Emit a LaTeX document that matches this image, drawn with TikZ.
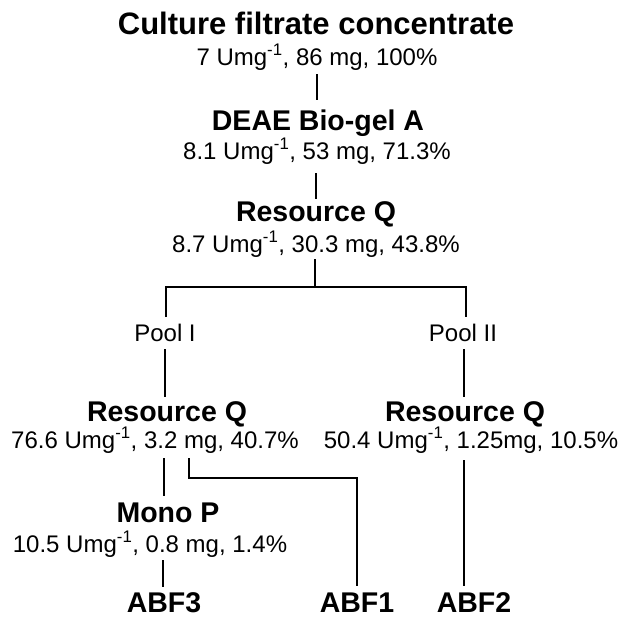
\documentclass[tikz,border=0pt]{standalone}
\usepackage{fontspec}
\setmainfont{Liberation Sans}
\usetikzlibrary{calc}
\begin{document}
\begin{tikzpicture}[x=1pt,y=-1pt,
  hd/.style={anchor=base,inner sep=0pt,text depth=0pt,font=\fontsize{28.5}{30}\selectfont\bfseries},
  ttl/.style={anchor=base,inner sep=0pt,text depth=0pt,font=\fontsize{31}{32}\selectfont\bfseries},
  info/.style={anchor=base,inner sep=0pt,text height=17pt,font=\fontsize{24}{26}\selectfont},
  conn/.style={line width=1.3pt}]
\useasboundingbox (0,0) rectangle (623,618);
% nodes
\node[ttl]  (cfc)  at (316,35)  {Culture filtrate concentrate};
\node[info] (s1)   at (317,65)  {7 Umg\textsuperscript{-1}, 86 mg, 100\%};
\node[hd]   (deae) at (318,130) {DEAE Bio-gel A};
\node[info] (s2)   at (317,159) {8.1 Umg\textsuperscript{-1}, 53 mg, 71.3\%};
\node[hd]   (rq3)  at (316,221) {Resource Q};
\node[info] (s3)   at (316,252) {8.7 Umg\textsuperscript{-1}, 30.3 mg, 43.8\%};
\node[info] (p1)   at (165,341) {Pool I};
\node[info] (p2)   at (463,341) {Pool II};
\node[hd]   (rq4)  at (167,421) {Resource Q};
\node[info] (s4)   at (155,448) {76.6 Umg\textsuperscript{-1}, 3.2 mg, 40.7\%};
\node[hd]   (rq5)  at (465,421) {Resource Q};
\node[info] (s5)   at (471,448) {50.4 Umg\textsuperscript{-1}, 1.25mg, 10.5\%};
\node[hd]   (mono) at (168,522) {Mono P};
\node[info] (s6)   at (150,552) {10.5 Umg\textsuperscript{-1}, 0.8 mg, 1.4\%};
\node[hd]   (abf3) at (164,612) {ABF3};
\node[hd]   (abf1) at (357,612) {ABF1};
\node[hd]   (abf2) at (474,612) {ABF2};
% connectors
\draw[conn] ($(s1.base)+(0,9)$) -- ($(deae.base)+(-1,-30)$);
\draw[conn] ($(s2.base)+(-1,14)$) -- ($(rq3.base)+(0,-22)$);
\draw[conn] ($(s3.base)+(-1,7)$) -- ($(s3.base)+(-1,35)$);
\draw[conn] ($(p1.base)+(1,-24)$) |- ($(s3.base)+(-1,35)$) -| ($(p2.base)+(3,-24)$);
\draw[conn] ($(p1.base)+(0,8)$) -- ($(rq4.base)+(-2,-24)$);
\draw[conn] ($(p2.base)+(1,8)$) -- ($(rq5.base)+(-1,-24)$);
\draw[conn] ($(s4.base)+(9,10)$) -- ($(mono.base)+(-4,-26)$);
\draw[conn] ($(s4.base)+(34,10)$) -- ($(s4.base)+(34,30)$) -| ($(abf1.base)+(0,-26)$);
\draw[conn] ($(s5.base)+(-7,12)$) -- ($(abf2.base)+(-10,-26)$);
\draw[conn] ($(s6.base)+(13,8)$) -- ($(abf3.base)+(-1,-25)$);
\end{tikzpicture}
\end{document}
